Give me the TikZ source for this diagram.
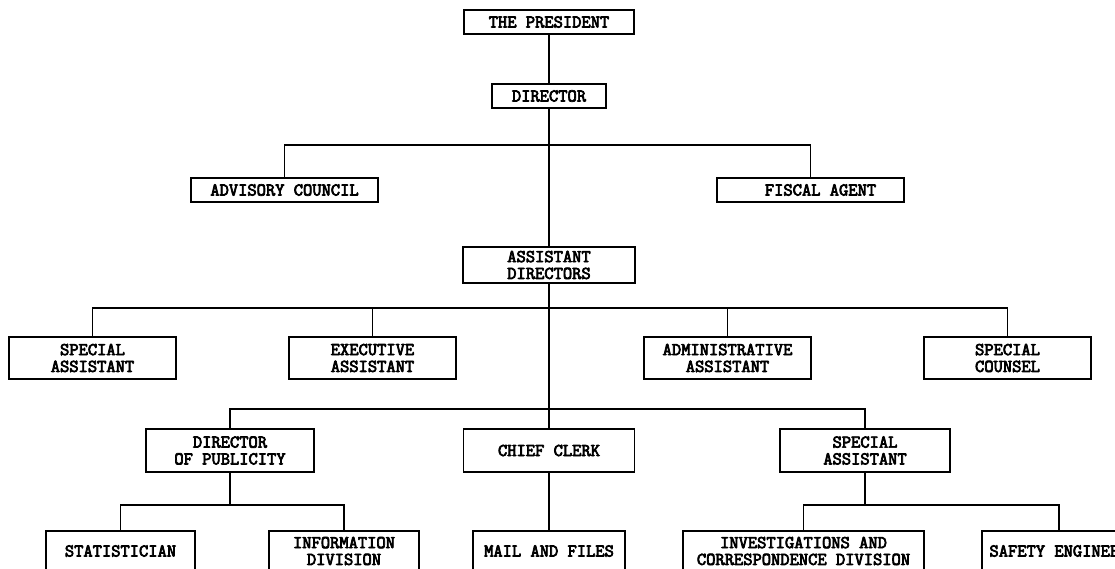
\documentclass[tikz,border=0pt]{standalone}
\usepackage{fontspec}
\newfontfamily\typewriter[FakeBold=4]{Latin Modern Mono}
\begin{document}
\begin{tikzpicture}[x=1pt,y=-1pt,
  box/.style={draw, line width=1.8pt, rectangle, inner sep=0pt, align=center,
    font=\typewriter\fontsize{18}{16.8}\selectfont},
  onerow/.style={box, minimum height=24pt},
  tworow/.style={box, minimum height=42pt},
  lowrow/.style={box, minimum height=40pt},
  link/.style={line width=1.9pt}]
  \fill[white] (0,0) rectangle (1115,569);
  \useasboundingbox (0,0) rectangle (1115,569);
  \clip (0,0) rectangle (1115,569);

  % top of the chain
  \node[onerow, minimum width=170pt] (pres) at (549,22) {THE PRESIDENT};
  \node[onerow, minimum width=114pt] (dir) at (549,96) {DIRECTOR};
  \node[onerow, minimum width=187pt] (adv) at (284.5,190) {ADVISORY COUNCIL};
  \node[onerow, minimum width=187pt] (fisc) at (810.5,190) {\hspace*{20pt}FISCAL AGENT};
  \node[box, minimum width=172pt, minimum height=36pt] (asst) at (549,265) {ASSISTANT\\DIRECTORS};

  % staff row
  \node[tworow, minimum width=167pt] (spa) at (92.5,358) {SPECIAL\\ASSISTANT};
  \node[tworow, minimum width=167pt] (exe) at (372.5,358) {EXECUTIVE\\ASSISTANT};
  \node[tworow, minimum width=167pt] (adm) at (727.5,358) {ADMINISTRATIVE\\ASSISTANT};
  \node[tworow, minimum width=167pt] (cou) at (1007.5,358) {SPECIAL\\COUNSEL};

  % line row
  \node[tworow, minimum width=168pt, minimum height=43pt] (pub) at (230,450.5) {DIRECTOR\\OF PUBLICITY};
  \node[tworow, minimum width=171pt, minimum height=43pt] (clk) at (549,450.5) {CHIEF CLERK};
  \node[tworow, minimum width=170pt, minimum height=43pt] (spb) at (865,450.5) {SPECIAL\\ASSISTANT};

  % bottom row
  \node[lowrow, minimum width=149pt] (sta) at (120.5,551) {STATISTICIAN};
  \node[lowrow, minimum width=150pt] (inf) at (344,551) {INFORMATION\\DIVISION};
  \node[lowrow, minimum width=152pt] (mail) at (549,551) {MAIL AND FILES};
  \node[lowrow, minimum width=241pt] (inv) at (803.5,551) {INVESTIGATIONS AND\\CORRESPONDENCE DIVISION};
  \node[lowrow, minimum width=154pt] (saf) at (1059,551) {SAFETY ENGINEER};

  % bus lines
  \coordinate (busA) at (549,145);
  \coordinate (busB) at (549,308);
  \coordinate (busC) at (549,409);
  \coordinate (busD) at (230,505);
  \coordinate (busE) at (865,505);

  % connectors
  \draw[link] (pres.south) -- (dir.north);
  \draw[link] (dir.south) -- (asst.north);
  \draw[link] (adv.north) |- (busA) -| (fisc.north);
  \draw[link] (asst.south) -- (clk.north);
  \draw[link] (spa.north) |- (busB) -| (cou.north);
  \draw[link] (exe.north) |- (busB);
  \draw[link] (adm.north) |- (busB);
  \draw[link] (pub.north) |- (busC) -| (spb.north);
  \draw[link] (pub.south) -- (busD);
  \draw[link] (sta.north) |- (busD) -| (inf.north);
  \draw[link] (clk.south) -- (mail.north);
  \draw[link] (spb.south) -- (busE);
  \draw[link] (inv.north) |- (busE) -| (saf.north);
\end{tikzpicture}
\end{document}
